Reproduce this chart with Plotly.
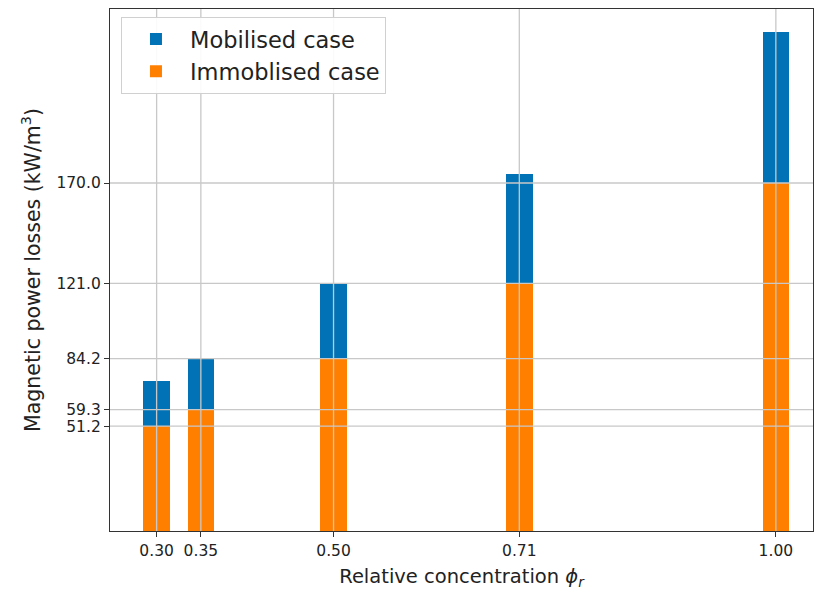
import plotly.graph_objects as go

# Data
concentration = [0.30, 0.35, 0.50, 0.71, 1.00]
x_tick_labels = ["0.30", "0.35", "0.50", "0.71", "1.00"]
mobilised = [73.4, 84.4, 121.3, 174.2, 243.7]
immobilised = [51.2, 59.3, 84.2, 121.0, 170.0]
y_tick_vals = [51.2, 59.3, 84.2, 121.0, 170.0]
y_tick_labels = ["51.2", "59.3", "84.2", "121.0", "170.0"]

BLUE = "#0072B5"
ORANGE = "#FF7F00"
GRID = "#c8c8c8"
AX = "#333333"
FONT = "DejaVu Sans"
TXT = "#222222"

fig = go.Figure()
fig.add_trace(go.Bar(x=concentration, y=mobilised, width=0.03, name="Mobilised case",
                     marker=dict(color=BLUE, line=dict(width=0))))
fig.add_trace(go.Bar(x=concentration, y=immobilised, width=0.03, name="Immoblised case",
                     marker=dict(color=ORANGE, line=dict(width=0))))

# grid lines drawn above bars (as in the reference)
shapes = []
for xv in concentration:
    shapes.append(dict(type="line", xref="x", yref="paper", x0=xv, x1=xv, y0=0, y1=1,
                       line=dict(color=GRID, width=1.3), layer="above"))
for yv in y_tick_vals:
    shapes.append(dict(type="line", xref="paper", yref="y", x0=0, x1=1, y0=yv, y1=yv,
                       line=dict(color=GRID, width=1.3), layer="above"))

fig.update_layout(
    width=814, height=592,
    margin=dict(l=110, r=1, t=9, b=61),
    paper_bgcolor="white", plot_bgcolor="white",
    barmode="overlay",
    bargap=0,
    font=dict(family=FONT, color=TXT),
    shapes=shapes,
    legend=dict(x=0.0156, y=0.985, xanchor="left", yanchor="top",
                font=dict(size=22.5, family=FONT, color=TXT),
                bgcolor="rgba(255,255,255,0.9)", bordercolor="#d0d0d0", borderwidth=1,
                itemwidth=58, tracegroupgap=4),
    xaxis=dict(range=[0.2473, 1.042], tickmode="array", tickvals=concentration,
               ticktext=x_tick_labels, showgrid=False, zeroline=False, automargin=False,
               showline=True, linecolor=AX, linewidth=1.3, mirror=True,
               ticks="outside", ticklen=5, tickcolor=AX, tickwidth=1,
               tickfont=dict(size=15.5, family=FONT, color=TXT),
               title=dict(text="Relative concentration <i>ϕ<sub>r</sub></i>",
                          font=dict(size=19.5, family=FONT, color=TXT), standoff=10)),
    yaxis=dict(range=[0, 255], tickmode="array", tickvals=y_tick_vals,
               ticktext=y_tick_labels, showgrid=False, zeroline=False, automargin=False,
               showline=True, linecolor=AX, linewidth=1.3, mirror=True,
               ticks="outside", ticklen=5, tickcolor=AX, tickwidth=1,
               tickfont=dict(size=15.5, family=FONT, color=TXT),
               title=dict(text="Magnetic power losses (kW/m<sup>3</sup>)",
                          font=dict(size=20.5, family=FONT, color=TXT), standoff=10)),
)

fig.write_html("out.html", config={"displayModeBar": False},
               post_script="document.body.style.margin='0';document.body.style.overflow='hidden';")
